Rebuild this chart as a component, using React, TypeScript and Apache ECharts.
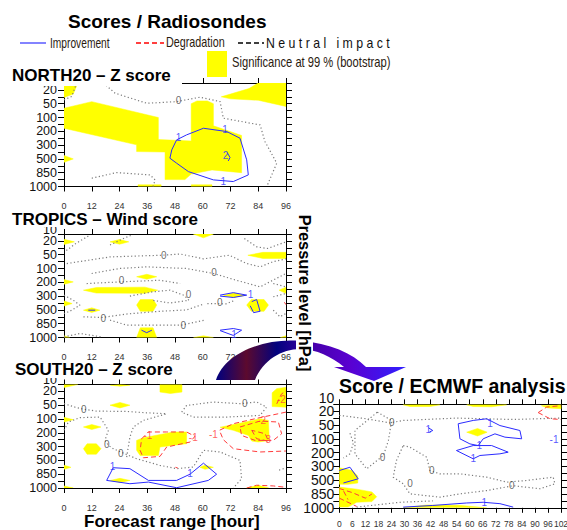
import React, { useEffect, useRef } from 'react';
import * as echarts from 'echarts';

// ---------- axis values ----------
const LEVELS = ['10', '20', '50', '100', '200', '300', '500', '850', '1000'];
const RS_MAX = 96;
const RS_STEP = 12;
const EC_MAX = 102;
const EC_STEP = 6;

// ---------- NORTH20 – Z score ----------
const N_SIG = [
  [[0, 0.5], [6, 0.5], [4, 1.3], [0, 1.55]],
  [[68, 1.5], [80, 0.9], [84, 0.5], [96, 0.5], [96, 2.2], [84, 1.75], [72, 1.65]],
  [[0, 2.33], [12, 1.85], [40.8, 3.0], [40.8, 4.6], [55, 4.7], [55, 2.0], [57.5, 1.8], [62, 1.8], [64.6, 2.0], [64.6, 3.6], [76.8, 4.3], [76.8, 7.0], [64, 6.8], [55, 7.1], [52.3, 7.5], [43.7, 7.5], [43.7, 5.5], [31.4, 5.47], [31.4, 4.98], [0, 3.78]],
  [[0, 5.75], [4, 6.0], [0, 6.25]],
  [[32, 7.88], [42, 7.88], [42, 8], [32, 8]],
  [[55, 7.88], [64, 7.88], [64, 8], [55, 8]],
];
const N_NEUTRAL = [
  [[5.5, 0.5], [3.3, 1.48], [0, 1.72]],
  [[17, 0.5], [22.1, 1.24], [35.8, 1.97], [48.7, 1.85], [58.8, 1.53], [67.5, 1.85], [68.9, 3.05], [84.8, 3.54], [86.9, 4.74], [92, 6.31], [87.7, 8.0]],
  [[12, 7.4], [22.8, 6.99], [37.2, 7.16], [39.4, 7.52], [38.5, 8.0]],
];
const N_IMPROVE = [
  [[48.7, 4.62], [46.6, 5.35], [45.8, 5.95], [48.7, 6.31], [53.8, 6.92], [64.6, 7.52], [73.2, 7.64], [79.7, 7.16], [79.0, 6.07], [76.1, 4.5], [70.4, 4.02], [60.3, 3.78], [53.0, 4.26], [48.7, 4.62]],
  [[70.6, 5.55], [71.8, 5.9], [71, 6.15]],
];
const N_DEGRADE: number[][][] = [];
const N_LAB_N = [[49.5, 1.8, '0']];
const N_LAB_I = [[49.5, 4.45, '1'], [69.6, 3.9, '1'], [68.9, 7.64, '1'], [69.8, 5.75, '2']];
const N_LAB_D: (number | string)[][] = [];

// ---------- TROPICS – Wind score ----------
const T_SIG = [
  [[55.9, 0.5], [64.6, 0.5], [60.3, 0.78]],
  [[0, 0.88], [4.5, 1.07], [0, 1.26]],
  [[19.9, 1.07], [24, 0.9], [28, 1.07], [24, 1.24]],
  [[79.5, 2.04], [86, 1.83], [96, 1.83], [96, 2.27], [86, 2.27]],
  [[0, 3.8], [4, 3.97], [0, 4.14]],
  [[31.4, 3.6], [35.8, 3.42], [40.1, 3.6], [35.8, 3.78]],
  [[8.4, 4.57], [14, 4.38], [35, 4.35], [40.5, 4.57], [35, 4.8], [14, 4.78]],
  [[93, 4.57], [96, 4.35], [96, 4.8]],
  [[0, 5.35], [3.5, 5.54], [0, 5.72]],
  [[31.4, 5.65], [33, 5.25], [38.5, 5.25], [40.1, 5.65], [38.5, 6.1], [33, 6.1]],
  [[8.4, 6.02], [12, 5.85], [15.5, 6.02], [12, 6.18]],
  [[79, 5.65], [81, 5.25], [86.5, 5.25], [88.4, 5.65], [86.5, 6.1], [81, 6.1]],
  [[69, 4.95], [73.5, 4.78], [78.5, 4.95], [73.5, 5.1]],
  [[31.4, 8], [33, 7.3], [38.5, 7.3], [40.1, 8]],
  [[56, 8], [60.3, 7.88], [64.6, 8]],
  [[0, 7.88], [2.5, 8], [0, 8]],
  [[93.5, 8], [96, 7.88], [96, 8]],
];
const T_NEUTRAL = [
  [[1, 1.7], [5, 1.2], [11, 0.6]],
  [[19.9, 1.3], [26, 0.8], [29, 0.6]],
  [[1.2, 2.64], [19.9, 2.16], [42, 2.04], [50.2, 1.95], [60.3, 2.3], [71.5, 2.04], [79, 2.64], [84.8, 2.88], [90.5, 2.5], [96, 2.3]],
  [[78, 0.83], [83.3, 1.43], [88, 1.55], [96, 1.07]],
  [[11.96, 3.36], [24, 3.0], [35.75, 2.88], [53, 3.0], [64.6, 3.36], [74.5, 3.85], [84.8, 4.33], [96, 3.36]],
  [[9.8, 4.09], [24.2, 3.97], [41.5, 3.85], [50.2, 4.09]],
  [[28.5, 5.0], [38, 4.7], [45.8, 4.57], [52, 4.95], [54, 5.3], [46, 5.5], [38, 5.3]],
  [[62, 5.54], [70, 5.56], [74, 5.3]],
  [[0, 4.93], [4, 5.3], [6.9, 5.66], [2.5, 6.1], [0, 6.26]],
  [[8.4, 6.5], [16.5, 6.55], [27, 6.3], [41.5, 6.1], [53, 6.0], [60, 5.6]],
  [[19.9, 6.74], [27.1, 7.1], [50.8, 7.1], [60.8, 6.74]],
  [[90.5, 4.09], [96, 4.33]],
  [[90.5, 5.05], [96, 4.81]],
  [[90.5, 6.02], [93.4, 6.5], [96, 6.26]],
  [[0, 7.95], [7, 7.71], [16, 7.95]],
];
const T_IMPROVE = [
  [[67.5, 4.93], [73.2, 4.75], [79, 4.93], [73.2, 5.1], [67.5, 5.0]],
  [[81.2, 5.4], [83.3, 5.25], [84.8, 6.1], [82, 6.2], [80.5, 5.7]],
  [[67.5, 7.47], [73.2, 7.35], [76.8, 7.47], [73.2, 7.85], [67.5, 7.5]],
  [[10.5, 6.02], [13.5, 6.02]],
  [[33.5, 7.47], [35.75, 7.65], [38, 7.47]],
];
const T_DEGRADE = [[[95.3, 5.45], [96, 5.62]]];
const T_LAB_N = [[43.2, 2.04, '0'], [64.9, 3.31, '0'], [24.9, 3.9, '0'], [53.8, 4.88, '0'], [67.4, 5.49, '0'], [17.0, 6.62, '0'], [51.6, 7.16, '0']];
const T_LAB_I = [[80.7, 4.9, '1'], [73.5, 7.78, '1']];
const T_LAB_D: (number | string)[][] = [];

// ---------- SOUTH20 – Z score ----------
const S_SIG = [
  [[0, 0.5], [6, 0.5], [0, 0.72]],
  [[20, 0.55], [24.2, 0.5], [28.5, 0.55], [24.2, 0.62]],
  [[41.5, 0.5], [51, 0.5], [51, 1.05], [46, 1.15], [41.5, 1.05]],
  [[90, 1.1], [92, 0.8], [96, 0.7], [96, 2.14], [90, 2.1]],
  [[19.9, 2.0], [24.2, 1.8], [28.5, 2.0], [24.2, 2.2]],
  [[0, 2.88], [4, 3.05], [0, 3.22]],
  [[8.4, 3.58], [12, 3.4], [16, 3.58], [12, 3.76]],
  [[8.4, 5.15], [10, 4.8], [14, 4.8], [16, 5.15], [14, 5.55], [10, 5.55]],
  [[31.4, 4.55], [34.3, 4.36], [47.3, 3.94], [53, 3.94], [53, 4.79], [41.5, 5.03], [40.8, 5.64], [32.9, 5.64], [31.4, 5.27]],
  [[67.5, 3.6], [79, 3.2], [84.8, 2.98], [88.4, 3.1], [88.8, 4.55], [84, 4.67], [81.2, 4.6], [79.8, 4.19], [73.2, 3.82]],
  [[0, 6.35], [3, 6.5], [0, 6.65]],
  [[58.8, 6.5], [61, 6.35], [64.6, 6.5], [61, 6.65]],
  [[20, 7.45], [24.2, 7.3], [28.5, 7.45], [24.2, 7.6]],
  [[0, 7.85], [4, 8], [0, 8]],
  [[79, 8], [84, 7.8], [88.5, 8]],
];
const S_NEUTRAL = [
  [[0, 1.89], [4.76, 2.14], [8.65, 2.3], [14.1, 2.43], [27.1, 2.45], [35.75, 2.55], [44.4, 2.62]],
  [[0, 3.82], [1.9, 3.22], [6.9, 2.9], [15.6, 2.86], [19.2, 3.82], [17.7, 4.55], [19.2, 4.91], [21.3, 5.15], [24.5, 5.39], [31.4, 5.88], [41.5, 6.36], [48.7, 6.6], [55.9, 6.48], [60.3, 5.27], [67.5, 5.39], [76.1, 6.0], [76.8, 7.33], [73.2, 8.0]],
  [[27.1, 5.76], [28.5, 4.31], [30, 3.58], [34.3, 3.1], [44.4, 2.62]],
  [[50.9, 2.5], [53, 2.02], [64.6, 1.77], [76.1, 1.89], [83.3, 1.77], [87.6, 2.14], [84.8, 2.74], [70.4, 2.86], [55.9, 2.86], [50.9, 2.5]],
  [[93, 6.7], [96, 6.55]],
];
const S_IMPROVE = [
  [[18.45, 7.45], [21.3, 6.53], [28.5, 6.6], [36.5, 7.45], [48.7, 7.45], [54.5, 7.0], [60.3, 6.2], [66, 7.0], [62.4, 7.45], [48.7, 7.98], [36.5, 7.57], [28.5, 7.69], [18.45, 7.45]],
];
const S_DEGRADE = [
  [[33.6, 4.43], [36.5, 3.94], [44.4, 3.94], [53, 3.94], [56.6, 4.26], [54.5, 4.67], [44.4, 5.03], [41.5, 5.71], [34.3, 5.81], [32.9, 5.27], [33.6, 4.43]],
  [[96, 2.5], [84.8, 2.9], [73.2, 3.34], [67.2, 3.82], [68.9, 4.5], [73.2, 5.15], [84.8, 5.39], [96, 5.32]],
  [[76.1, 3.58], [84.8, 3.15], [92.7, 3.22], [94.1, 4.07], [90.5, 4.55], [82.6, 4.55], [76.8, 4.19], [76.1, 3.58]],
  [[81.2, 3.82], [83.3, 4.43], [88.4, 4.6], [87, 4.07], [81.2, 3.82]],
  [[92, 1.9], [94, 1.2], [96, 0.95]],
  [[79, 8], [83.3, 7.8], [90.5, 7.85], [96, 7.95]],
  [[48.2, 6.5], [49.2, 6.55]],
];
const S_LAB_N = [[8.5, 2.3, '0'], [18.45, 4.88, '0'], [24.5, 5.5, '0'], [78.2, 1.85, '0']];
const S_LAB_I = [[21, 6.45, '1'], [54.5, 6.97, '1']];
const S_LAB_D = [[36.3, 4.19, '-1'], [55.9, 4.31, '-1'], [64.6, 4.12, '-1'], [85.5, 3.1, '-2'], [87.6, 4.5, '-3'], [94, 1.6, '-2']];

// ---------- Score / ECMWF analysis ----------
const E_SIG = [
  [[29.4, 0.54], [46.3, 0.54], [41.7, 0.66], [32.5, 0.66]],
  [[58.6, 0.54], [77, 0.54], [70, 0.68], [61.6, 0.66]],
  [[93, 0.6], [102, 0.54], [102, 0.82], [96, 0.76]],
  [[58.6, 2.52], [63.6, 2.25], [68, 2.52], [63.6, 2.8]],
  [[0, 5.1], [6, 5.3], [8.5, 5.7], [8.5, 6.2], [4, 6.3], [0, 6.3]],
  [[0, 6.5], [8, 6.65], [15, 6.85], [17.2, 7.2], [15, 7.55], [8, 7.6], [4, 7.95], [0, 7.95]],
  [[29.4, 8], [40, 7.8], [55, 7.82], [67.8, 8]],
];
const E_NEUTRAL = [
  [[0, 1.3], [12.6, 1.55], [23.3, 1.85], [29.4, 1.67], [54, 1.5], [80, 1.6], [102, 1.5]],
  [[4.9, 2.6], [6.5, 3.3], [4.9, 4.09], [1.9, 4.4]],
  [[17.5, 1.07], [24.1, 1.67], [22.6, 3.12], [20.3, 4.21], [12.6, 5.18], [7.2, 4.09], [7.2, 2.4], [17.5, 1.07]],
  [[29.4, 3.49], [32.5, 3.61], [40.2, 4.33], [41.7, 5.3], [46.3, 5.54], [55.5, 5.54], [67.8, 5.78], [77, 6.14], [86.2, 6.02], [98.4, 5.78], [99.2, 6.26], [92.3, 6.62], [80, 6.4], [67.8, 6.75], [55.5, 6.99], [46.3, 7.23], [32.5, 6.99], [29.4, 6.26], [24.8, 5.78], [26.3, 4.57], [29.4, 3.49]],
  [[8, 7.95], [27.9, 7.6], [43, 7.5]],
];
const E_IMPROVE = [
  [[54.7, 1.91], [61.6, 1.67], [67.8, 1.55], [73.9, 2.04], [83.1, 2.4], [83.9, 3.0], [76.2, 2.88], [71.6, 2.64], [66.2, 3.0], [63.9, 3.49], [60.1, 3.37], [55.5, 3.0], [54.7, 1.91]],
  [[53.9, 3.85], [61.6, 3.49], [70.1, 3.49], [77.7, 3.97], [73.9, 4.09], [64.7, 4.21], [61.6, 4.45], [53.9, 3.85]],
  [[41, 2.2], [43, 2.4], [41.5, 2.5]],
  [[0, 5.3], [4.9, 5.06], [8.7, 5.9], [1.9, 6.2]],
  [[29.4, 7.95], [43, 7.83], [58.6, 7.65], [66.2, 7.6], [73.9, 7.7], [80, 7.95]],
];
const E_DEGRADE = [
  [[91.5, 1.1], [95.4, 0.7], [102, 0.6]],
  [[91.5, 1.1], [97, 1.55], [102, 1.6]],
  [[0, 6.6], [6, 6.9], [12, 7.3], [15, 7.0]],
  [[0, 7.3], [4, 7.6], [8, 7.9]],
  [[2, 6.8], [4, 7.4]],
];
const E_LAB_N = [[24.1, 1.79, '0'], [19.9, 4.38, '0'], [42.5, 5.3, '0'], [32.5, 6.26, '0'], [79.3, 6.38, '0']];
const E_LAB_I = [[40.9, 2.35, '1'], [69.3, 1.91, '1'], [64.4, 3.49, '1'], [61.6, 4.45, '1'], [98.8, 3.07, '-1'], [66.7, 7.64, '1']];
const E_LAB_D: (number | string)[][] = [];

// ---------- styling / layout ----------
const FONT = '"Liberation Sans", Arial, sans-serif';
const YELLOW = '#ffff00';
const BLUE = '#2b2bff';
const RED = '#ff3b3b';
const GREY = '#7a7a7a';

const ARROW_PATH =
  'M216 380 C225 352 265 338 300 341 C330 343 352 353 366 367 L406 367 L374 381 L334 367 L344 367 C332 357 316 349 300 349 C282 349 263 360 255 380 Z';
echarts.graphic.registerShape('curvedArrow', echarts.graphic.extendPath(ARROW_PATH, {}));

const PANELS = [
  { grid: { left: 64, top: 83, width: 222, height: 103.5 }, xMax: RS_MAX, xStep: RS_STEP, sig: N_SIG, neutral: N_NEUTRAL, improve: N_IMPROVE, degrade: N_DEGRADE, labN: N_LAB_N, labI: N_LAB_I, labD: N_LAB_D, ySize: 12.5, yLine: 11, yMargin: 7, xSize: 9, xMargin: 15, topLabel: false, tenShift: 0 },
  { grid: { left: 64, top: 234, width: 222, height: 103.5 }, xMax: RS_MAX, xStep: RS_STEP, sig: T_SIG, neutral: T_NEUTRAL, improve: T_IMPROVE, degrade: T_DEGRADE, labN: T_LAB_N, labI: T_LAB_I, labD: T_LAB_D, ySize: 12.5, yLine: 11, yMargin: 7, xSize: 9, xMargin: 15, topLabel: true, tenShift: 2.5 },
  { grid: { left: 64, top: 384.5, width: 222, height: 103.5 }, xMax: RS_MAX, xStep: RS_STEP, sig: S_SIG, neutral: S_NEUTRAL, improve: S_IMPROVE, degrade: S_DEGRADE, labN: S_LAB_N, labI: S_LAB_I, labD: S_LAB_D, ySize: 12.5, yLine: 11, yMargin: 7, xSize: 9, xMargin: 15, topLabel: true, tenShift: 2.5 },
  { grid: { left: 339.3, top: 404.3, width: 221.7, height: 103.5 }, xMax: EC_MAX, xStep: EC_STEP, sig: E_SIG, neutral: E_NEUTRAL, improve: E_IMPROVE, degrade: E_DEGRADE, labN: E_LAB_N, labI: E_LAB_I, labD: E_LAB_D, ySize: 14, yLine: 10, yMargin: 5, xSize: 8.5, xMargin: 12, topLabel: true, tenShift: 1 },
];

function levelLabel(v: number) {
  const r = Math.round(v);
  return Math.abs(v - r) < 1e-6 && r >= 0 && r < LEVELS.length ? LEVELS[r] : '';
}

function buildOption() {
  const grid: any[] = [];
  const xAxis: any[] = [];
  const yAxis: any[] = [];
  const series: any[] = [];
  const axisLine = { onZero: false, lineStyle: { color: '#000', width: 1 } };

  PANELS.forEach((p, g) => {
    grid.push({ ...p.grid, containLabel: false, outerBoundsMode: 'none', show: true, backgroundColor: '#fff', borderWidth: 0 });
    xAxis.push({
      gridIndex: g, type: 'value', min: 0, max: p.xMax, interval: p.xStep, position: 'bottom',
      axisLine, axisTick: { length: 5, lineStyle: { color: '#000' } },
      axisLabel: { fontSize: p.xSize, lineHeight: p.xSize, color: '#333', margin: p.xMargin, fontFamily: FONT },
      splitLine: { show: false },
    });
    xAxis.push({
      gridIndex: g, type: 'value', min: 0, max: p.xMax, interval: p.xStep, position: 'top',
      axisLine, axisTick: { length: 5, lineStyle: { color: '#000' } },
      axisLabel: { show: false }, splitLine: { show: false },
    });
    yAxis.push({
      gridIndex: g, type: 'value', inverse: true, min: 0.5, max: 8, interval: 0.5, position: 'left',
      axisLine, axisTick: { length: 6, lineStyle: { color: '#000' } },
      axisLabel: { formatter: levelLabel, fontSize: p.ySize, lineHeight: p.yLine, color: '#111', margin: p.yMargin, fontFamily: FONT },
      splitLine: { show: false },
    });
    yAxis.push({
      gridIndex: g, type: 'value', inverse: true, min: 0.5, max: 8, interval: 0.5, position: 'right',
      axisLine, axisTick: { length: 6, lineStyle: { color: '#000' } },
      axisLabel: { show: false }, splitLine: { show: false },
    });

    const xi = 2 * g;
    const yi = 2 * g;
    const polys = p.sig;
    series.push({
      type: 'custom', xAxisIndex: xi, yAxisIndex: yi, clip: true, silent: true, z: 1,
      data: polys.map((poly) => poly[0]),
      renderItem: (params: any, api: any) => {
        const poly = polys[params.dataIndex];
        return {
          type: 'polygon',
          shape: { points: poly.map((pt) => api.coord(pt)) },
          style: { fill: YELLOW, stroke: YELLOW, lineWidth: 0.5 },
        };
      },
    });
    const addLines = (lines: number[][][], color: string, type: any, width: number) => {
      lines.forEach((pl) => {
        series.push({
          type: 'line', xAxisIndex: xi, yAxisIndex: yi, data: pl, symbol: 'none', showSymbol: false,
          silent: true, z: 3, clip: true,
          lineStyle: { color, width, type },
        });
      });
    };
    addLines(p.neutral, GREY, [1.2, 2.4], 1.2);
    addLines(p.improve, BLUE, 'solid', 1);
    addLines(p.degrade, RED, [5, 3], 1);
    const addLabels = (labs: (number | string)[][], color: string) => {
      if (!labs.length) return;
      series.push({
        type: 'scatter', xAxisIndex: xi, yAxisIndex: yi, symbolSize: 1, silent: true, z: 4,
        itemStyle: { color: 'rgba(0,0,0,0)' },
        data: labs.map((l) => ({ value: [l[0], l[1]], name: String(l[2]) })),
        label: { show: true, position: 'inside', formatter: '{b}', color, fontSize: 10, lineHeight: 10, fontFamily: FONT },
      });
    };
    addLabels(p.labN, '#444');
    addLabels(p.labI, BLUE);
    addLabels(p.labD, RED);
  });

  const txt = (id: string, text: string, x: number, y: number, size: number, weight: any, extra: any = {}, sx = 1) => ({
    id, type: 'text', x, y, z: 51, scaleX: sx,
    style: { text, fontSize: size, lineHeight: Math.round(size * 0.85), fontWeight: weight, fontFamily: FONT, fill: '#000', align: 'left', verticalAlign: 'middle', ...extra },
  });

  const graphic: any[] = [
    // panel title masks
    { id: 'm1', type: 'rect', z: 50, shape: { x: 0, y: 63, width: 182, height: 23 }, style: { fill: '#fff' } },
    { id: 'm2', type: 'rect', z: 50, shape: { x: 0, y: 210, width: 202, height: 17 }, style: { fill: '#fff' } },
    { id: 'm3', type: 'rect', z: 50, shape: { x: 0, y: 361, width: 178, height: 17 }, style: { fill: '#fff' } },
    txt('t0', 'Scores / Radiosondes', 68, 21, 19, 'bold'),
    txt('t1', 'NORTH20 – Z score', 12, 75, 17, 'bold'),
    txt('t2', 'TROPICS – Wind score', 12, 219.5, 17, 'bold'),
    txt('t3', 'SOUTH20 – Z score', 15, 369.5, 17, 'bold'),
    txt('t4', 'Score / ECMWF analysis', 339, 386, 19.5, 'bold'),
    txt('t5', 'Forecast range [hour]', 84, 521, 17, 'bold'),
    // curved arrow
    {
      id: 'arrow', type: 'curvedArrow', x: 0, y: 0, z: 40,
      style: {
        fill: new echarts.graphic.LinearGradient(0, 0, 1, 0, [
          { offset: 0, color: '#000080' },
          { offset: 0.16, color: '#5c0a2e' },
          { offset: 0.32, color: '#02027e' },
          { offset: 0.5, color: '#4400a8' },
          { offset: 0.7, color: '#5a00d0' },
          { offset: 1, color: '#3020ff' },
        ]),
      },
    },
    { id: 'pmask', type: 'rect', z: 50, shape: { x: 296, y: 212, width: 17, height: 162 }, style: { fill: '#fff' } },
    {
      id: 'pl', type: 'text', x: 304.5, y: 293, rotation: -Math.PI / 2, z: 51,
      style: { text: 'Pressure level [hPa]', fontSize: 16.4, lineHeight: 14, fontWeight: 'bold', fontFamily: FONT, fill: '#000', align: 'center', verticalAlign: 'middle' },
    },
    // legend
    { id: 'l1', type: 'line', z: 51, shape: { x1: 20, y1: 43, x2: 46, y2: 43 }, style: { stroke: '#3030ff', lineWidth: 1.2 } },
    txt('lt1', 'Improvement', 50, 43, 14, 'normal', { fill: '#2a1a10' }, 0.73),
    { id: 'l2', type: 'line', z: 51, shape: { x1: 136, y1: 43, x2: 164, y2: 43 }, style: { stroke: '#ff0000', lineWidth: 1.5, lineDash: [5, 3] } },
    txt('lt2', 'Degradation', 166, 43, 14, 'normal', { fill: '#2a1a10' }, 0.77),
    { id: 'l3', type: 'line', z: 51, shape: { x1: 238, y1: 43, x2: 264, y2: 43 }, style: { stroke: '#000', lineWidth: 1.5, lineDash: [5, 3] } },
    txt('lt3', 'N e u t r a l   i m p a c t', 266, 43, 14, 'normal', { fill: '#111' }, 0.88),
    { id: 'l4', type: 'rect', z: 51, shape: { x: 207, y: 51, width: 20, height: 26 }, style: { fill: YELLOW } },
    txt('lt4', 'Significance at 99 % (bootstrap)', 232, 63, 14, 'normal', { fill: '#2a1a10' }, 0.8),
  ];

  return {
    animation: false,
    backgroundColor: '#fff',
    grid, xAxis, yAxis, series, graphic,
  };
}

export default function App() {
  const ref = useRef<HTMLDivElement>(null);
  useEffect(() => {
    const chart = echarts.init(ref.current!, null, { renderer: 'svg' });
    chart.setOption(buildOption());
    // the "10" level label sits just above each plot's top edge (hidden under the first title)
    const tens = PANELS.filter((p) => p.topLabel).map((p) => {
      const g = PANELS.indexOf(p);
      const y = chart.convertToPixel({ yAxisIndex: 2 * g } as any, 0) as unknown as number;
      return {
        id: 'ten' + g, type: 'text', x: p.grid.left - p.yMargin, y: y + p.tenShift, z: 10,
        style: { text: LEVELS[0], fontSize: p.ySize, lineHeight: p.yLine - 1, fontFamily: FONT, fill: '#111', align: 'right', verticalAlign: 'middle' },
      };
    });
    chart.setOption({ graphic: tens });
    return () => chart.dispose();
  }, []);
  return <div ref={ref} style={{ position: 'absolute', left: 0, top: 0, width: 567, height: 530 }} />;
}
